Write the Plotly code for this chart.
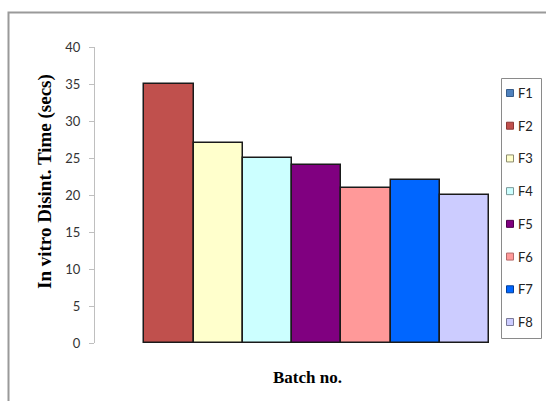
import plotly.graph_objects as go

batches = ["F1", "F2", "F3", "F4", "F5", "F6", "F7", "F8"]
times = [0, 35, 27, 25, 24, 21, 22, 20]
colors = ["#4f81bd", "#c0504d", "#ffffcc", "#ccffff", "#800080", "#ff9999", "#0066ff", "#ccccff"]
edge_colors = ["#385d8a", "#8c3836", "#8c8c6e", "#7a9999", "#4d004d", "#b36b6b", "#003d99", "#7a7a99"]
y_ticks = [0, 5, 10, 15, 20, 25, 30, 35, 40]

fig = go.Figure()
for name, val, col in zip(batches, times, colors):
    fig.add_trace(go.Bar(
        x=[""], y=[val], name=name,
        marker=dict(color=col, line=dict(color="#1a1a1a", width=1.5 if val > 0 else 0)),
    ))

W, H = 546, 401
L, R, T, B = 95, 57, 47, 58
pw, ph = W - L - R, H - T - B

def px(x):
    return (x - L) / pw

def py(y):
    return (H - B - y) / ph

shapes = [
    dict(type="rect", xref="paper", yref="paper", x0=px(8.5), x1=px(570), y0=py(12.5), y1=py(430),
         line=dict(color="#9a9a9a", width=2), fillcolor="rgba(0,0,0,0)", layer="below"),
    # legend box
    dict(type="rect", xref="paper", yref="paper", x0=px(501.5), x1=px(541.5), y0=py(78.5), y1=py(338.5),
         line=dict(color="#8a8a8a", width=1), fillcolor="white"),
]
annotations = [
    dict(text="<b>In vitro Disint. Time (secs)</b>", x=px(45), y=py(182), xref="paper", yref="paper",
         showarrow=False, textangle=-90, xanchor="center", yanchor="middle",
         font=dict(family="Liberation Serif, serif", size=19, color="black")),
    dict(text="<b>Batch no.</b>", x=px(307), y=py(377), xref="paper", yref="paper",
         showarrow=False, xanchor="center", yanchor="middle",
         font=dict(family="Liberation Serif, serif", size=17, color="black")),
]
step = (322 - 93) / 7
for i, (name, col, ec) in enumerate(zip(batches, colors, edge_colors)):
    cy = 93 + i * step
    shapes.append(dict(type="rect", xref="paper", yref="paper",
                       x0=px(506.5), x1=px(513.5), y0=py(cy - 3.5), y1=py(cy + 3.5),
                       line=dict(color=ec, width=1), fillcolor=col))
    annotations.append(dict(text=name, x=px(516), y=py(cy), xref="paper", yref="paper",
                            showarrow=False, xanchor="left", yanchor="middle",
                            font=dict(family="Lato, Open Sans, sans-serif", size=13, color="#222222")))

fig.update_layout(
    width=W, height=H,
    margin=dict(l=L, r=R, t=T, b=B, autoexpand=False),
    paper_bgcolor="white", plot_bgcolor="white",
    barmode="group", bargap=0, bargroupgap=0,
    showlegend=False,
    xaxis=dict(showticklabels=False, showline=False, ticks="", showgrid=False, zeroline=False),
    yaxis=dict(
        range=[0, 40], tickvals=y_ticks, ticks="outside", ticklen=5, tickcolor="#bfbfbf",
        showline=True, linecolor="#bfbfbf", linewidth=1, showgrid=False, zeroline=False,
        tickfont=dict(family="Lato, Open Sans, sans-serif", size=13, color="#333333"),
        ticklabelstandoff=6,
    ),
    annotations=annotations,
    shapes=shapes,
)

fig.write_html("out.html", config={"displayModeBar": False},
               post_script="document.body.style.margin='0px';")
